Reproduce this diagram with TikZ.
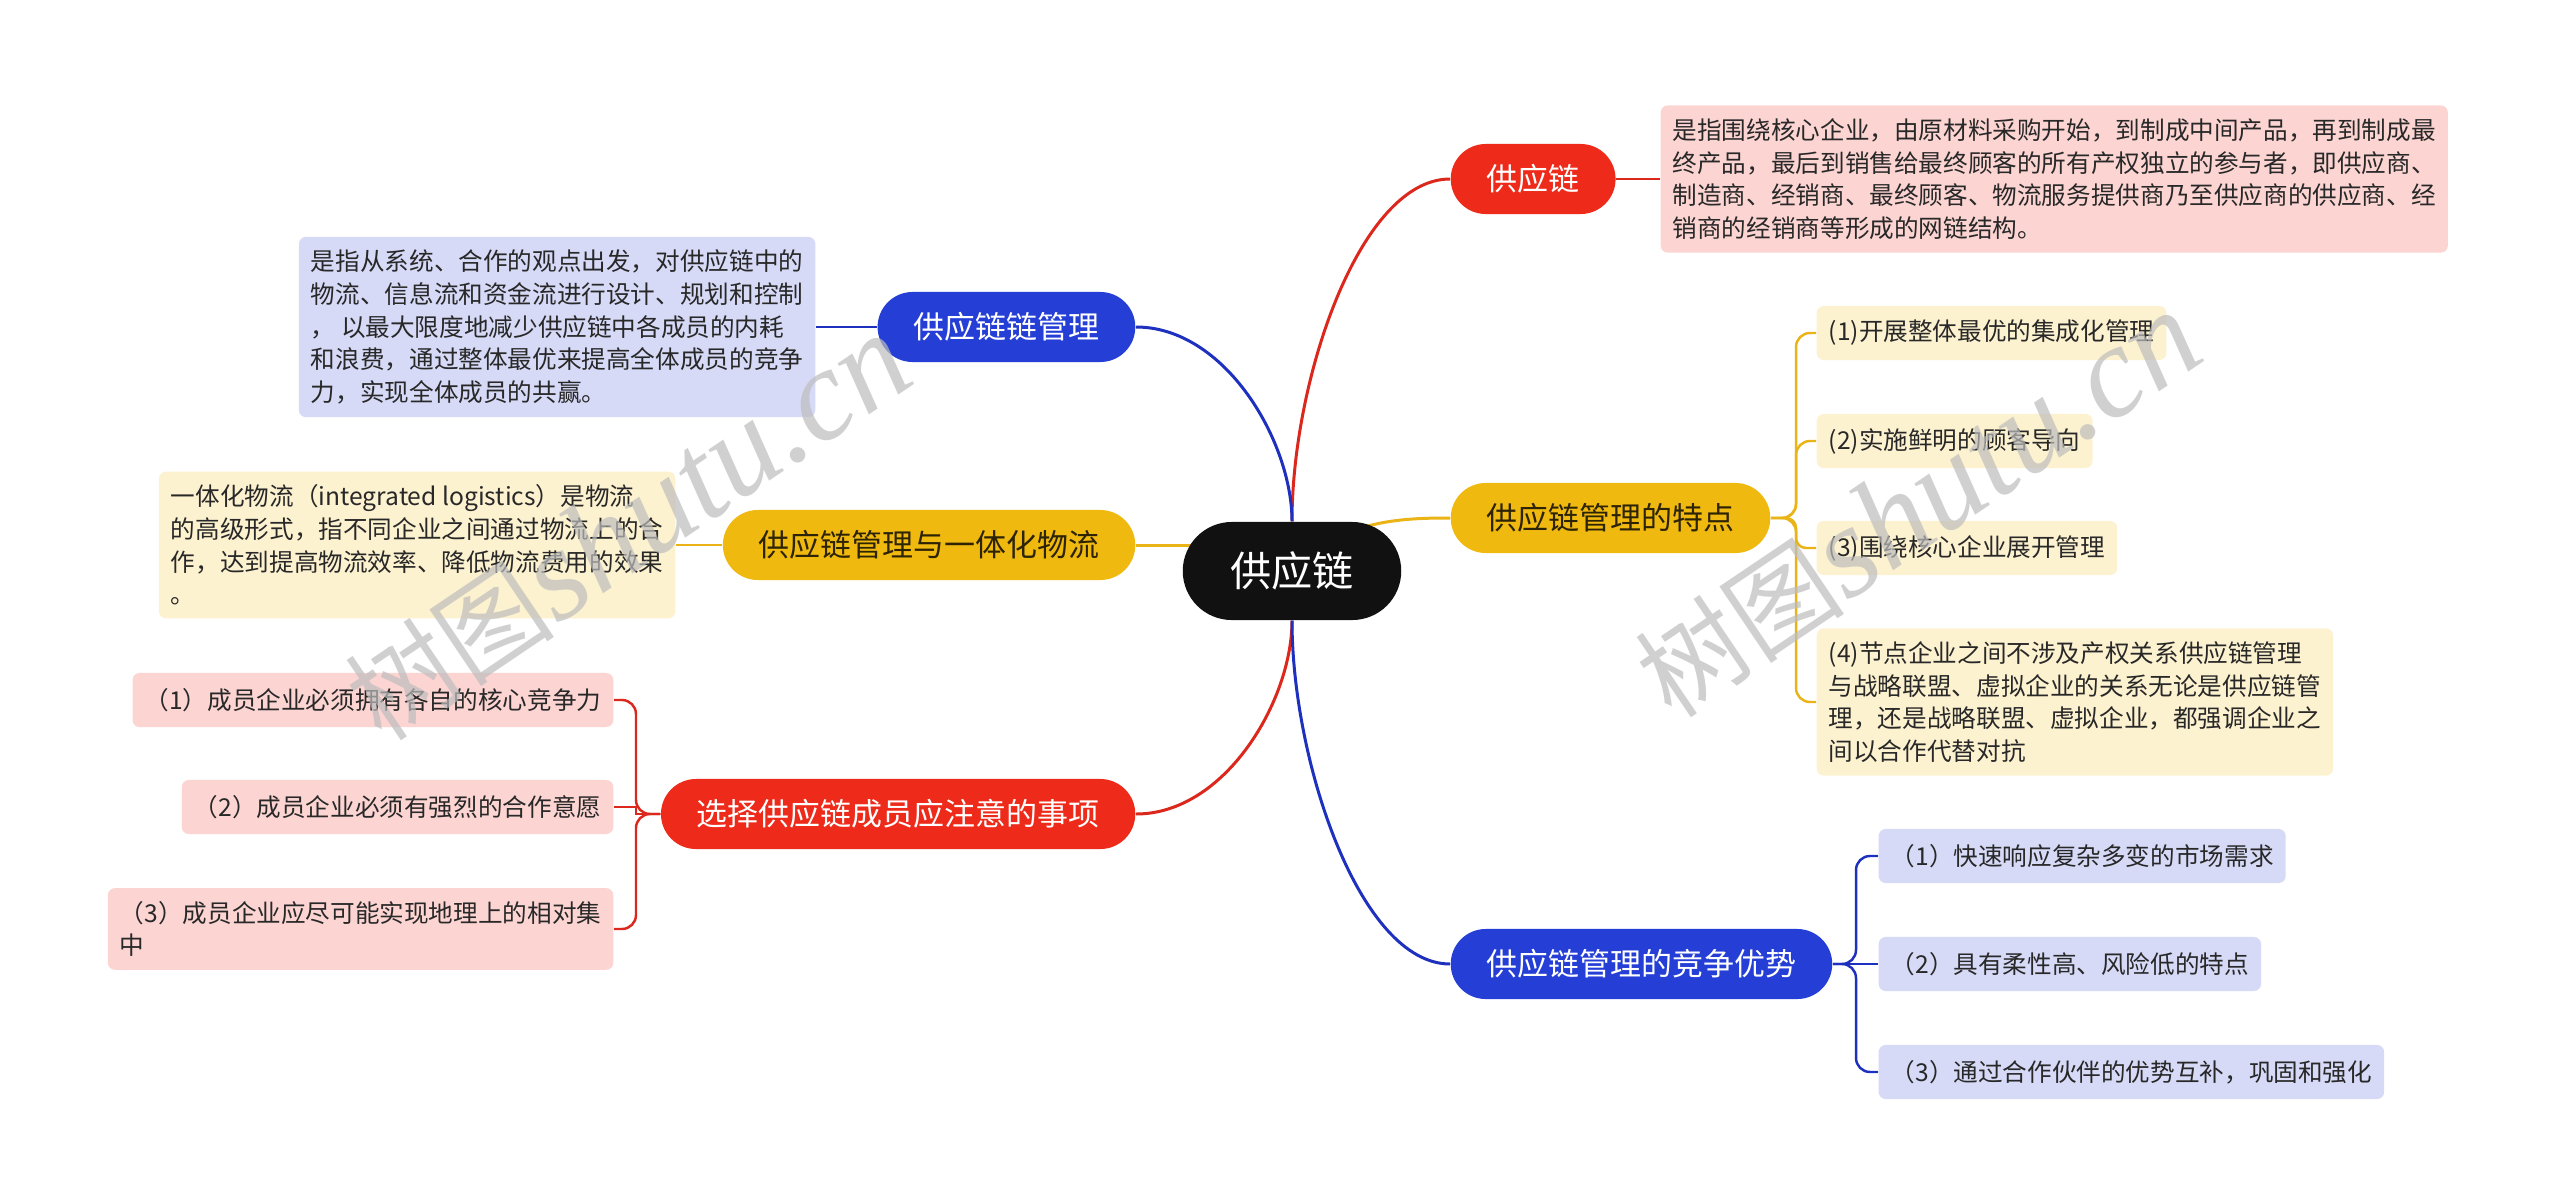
\documentclass[tikz,border=0pt]{standalone}
\usepackage{fontspec}
\setmainfont{Noto Sans CJK SC}
\newfontfamily\wmserif{Liberation Serif}
\usetikzlibrary{calc}
\pgfdeclarelayer{bg}
\pgfsetlayers{bg,main}
\definecolor{rootc}{RGB}{17,17,17}
\definecolor{redc}{RGB}{238,43,26}
\definecolor{rede}{RGB}{220,40,28}
\definecolor{redl}{RGB}{252,213,211}
\definecolor{yelc}{RGB}{240,185,15}
\definecolor{yele}{RGB}{234,180,22}
\definecolor{yell}{RGB}{253,242,208}
\definecolor{bluc}{RGB}{36,62,214}
\definecolor{blue2}{RGB}{30,48,190}
\definecolor{blul}{RGB}{214,218,247}
\definecolor{txt}{RGB}{40,40,40}
\definecolor{ytxt}{RGB}{45,35,5}
\begin{document}
\begin{tikzpicture}[x=0.01cm,y=-0.01cm,
  rootnode/.style={fill=rootc,text=white,rounded corners=0.49cm,minimum height=0.98cm,inner xsep=0.475cm,inner ysep=0pt,font=\fontsize{11.7}{14}\selectfont},
  topic/.style={rounded corners=0.35cm,minimum height=0.70cm,inner xsep=0.36cm,inner ysep=0pt,font=\fontsize{8.8}{10.5}\selectfont},
  redtopic/.style={topic,fill=redc,text=white},
  yeltopic/.style={topic,fill=yelc,text=ytxt},
  blutopic/.style={topic,fill=bluc,text=white},
  leaf/.style={rounded corners=0.07cm,minimum height=0.54cm,inner xsep=0.12cm,inner ysep=0.13cm,align=left,text=txt,font=\fontsize{7}{9.3}\selectfont},
  redleaf/.style={leaf,fill=redl},
  yelleaf/.style={leaf,fill=yell},
  bluleaf/.style={leaf,fill=blul},
  mainedge/.style={line width=0.85pt},
  subedge/.style={line width=0.7pt,rounded corners=0.14cm},
  wmark/.style={text=black!26,opacity=0.7,rotate=34}
]
\useasboundingbox (0,0) rectangle (2560,1203);
\begin{pgfonlayer}{bg}
\fill[white] (0,0) rectangle (2560,1203);
\end{pgfonlayer}

% root
\node[rootnode] (c) at (1292,571) {供应链};

% level 1
\node[redtopic,anchor=west] (r1) at (1450,179) {供应链};
\node[yeltopic,anchor=west] (yr) at (1450,518) {供应链管理的特点};
\node[blutopic,anchor=west] (br) at (1450,964) {供应链管理的竞争优势};
\node[blutopic,anchor=east] (bl) at (1136,327) {供应链链管理};
\node[yeltopic,anchor=east] (yl) at (1136,545) {供应链管理与一体化物流};
\node[redtopic,anchor=east] (rl) at (1136,814) {选择供应链成员应注意的事项};

% level 2
\node[redleaf,anchor=west] (rd) at (1660,179) {是指围绕核心企业，由原材料采购开始，到制成中间产品，再到制成最\\终产品，最后到销售给最终顾客的所有产权独立的参与者，即供应商、\\制造商、经销商、最终顾客、物流服务提供商乃至供应商的供应商、经\\销商的经销商等形成的网链结构。};

\node[yelleaf,anchor=west] (y1) at (1816,333) {(1)开展整体最优的集成化管理};
\node[yelleaf,anchor=west] (y2) at (1816,441) {(2)实施鲜明的顾客导向};
\node[yelleaf,anchor=west] (y3) at (1816,548) {(3)围绕核心企业展开管理};
\node[yelleaf,anchor=west] (y4) at (1816,702) {(4)节点企业之间不涉及产权关系供应链管理\\与战略联盟、虚拟企业的关系无论是供应链管\\理，还是战略联盟、虚拟企业，都强调企业之\\间以合作代替对抗};

\node[bluleaf,anchor=west] (b1) at (1878,856) {（1）快速响应复杂多变的市场需求};
\node[bluleaf,anchor=west] (b2) at (1878,964) {（2）具有柔性高、风险低的特点};
\node[bluleaf,anchor=west] (b3) at (1878,1072) {（3）通过合作伙伴的优势互补，巩固和强化};

\node[bluleaf,anchor=east] (bd) at (816,327) {是指从系统、合作的观点出发，对供应链中的\\物流、信息流和资金流进行设计、规划和控制\\， 以最大限度地减少供应链中各成员的内耗\\和浪费，通过整体最优来提高全体成员的竞争\\力，实现全体成员的共赢。};

\node[yelleaf,anchor=east] (yd) at (676,545) {一体化物流（integrated logistics）是物流\\的高级形式，指不同企业之间通过物流上的合\\作，达到提高物流效率、降低物流费用的效果\\。};

\node[redleaf,anchor=east] (l1) at (614,700) {（1）成员企业必须拥有各自的核心竞争力};
\node[redleaf,anchor=east] (l2) at (614,807) {（2）成员企业必须有强烈的合作意愿};
\node[redleaf,anchor=east] (l3) at (614,929) {（3）成员企业应尽可能实现地理上的相对集\\中};

% bracket points
\coordinate (ybx) at (1796,518);
\coordinate (bbx) at (1856,964);
\coordinate (rbx) at (636,814);

\begin{pgfonlayer}{bg}
% main connectors
\draw[mainedge,rede] (c.north) .. controls ($(c.north)+(0,-142)$) and ($(r1.west)+(-90,0)$) .. (r1.west);
\draw[mainedge,blue2] (c.north) .. controls ($(c.north)+(0,-80)$) and ($(bl.east)+(89,0)$) .. (bl.east);
\draw[mainedge,rede] (c.south) .. controls ($(c.south)+(0,80)$) and ($(rl.east)+(89,0)$) .. (rl.east);
\draw[mainedge,blue2] (c.south) .. controls ($(c.south)+(0,141)$) and ($(br.west)+(-90,0)$) .. (br.west);
\draw[mainedge,yele] (c.center) .. controls ($(c.center)+(48,-51)$) and ($(yr.west)+(-50,0)$) .. (yr.west);
\draw[mainedge,yele] (yl.east) -- (c.center |- yl.east);

% descriptions
\draw[subedge,rede] (r1.east) -- (rd.west);
\draw[subedge,blue2] (bl.west) -- (bd.east);
\draw[subedge,yele] (yl.west) -- (yd.east);

% yellow right bracket
\draw[subedge,yele] (yr.east) -- (ybx) -- (ybx |- y1.west) -- (y1.west);
\draw[subedge,yele] (yr.east) -- (ybx) -- (ybx |- y2.west) -- (y2.west);
\draw[subedge,yele,rounded corners=0.1cm] (yr.east) -- (ybx) -- (ybx |- y3.west) -- (y3.west);
\draw[subedge,yele] (yr.east) -- (ybx) -- (ybx |- y4.west) -- (y4.west);

% blue right bracket
\draw[subedge,blue2] (br.east) -- (bbx) -- (bbx |- b1.west) -- (b1.west);
\draw[subedge,blue2] (br.east) -- (b2.west);
\draw[subedge,blue2] (br.east) -- (bbx) -- (bbx |- b3.west) -- (b3.west);

% red left bracket
\draw[subedge,rede] (rl.west) -- (rbx) -- (rbx |- l1.east) -- (l1.east);
\draw[line width=0.7pt,rede] (rl.west) -- (rbx) -- (rbx |- l2.east) -- (l2.east);
\draw[subedge,rede] (rl.west) -- (rbx) -- (rbx |- l3.east) -- (l3.east);
\end{pgfonlayer}

% watermarks
\node[wmark] (w1) at (628,528) {{\fontsize{30}{32}\selectfont 树图}{\wmserif\itshape\fontsize{37}{39}\selectfont shutu.cn}};
\node[wmark] (w2) at (1918,505) {{\fontsize{30}{32}\selectfont 树图}{\wmserif\itshape\fontsize{37}{39}\selectfont shutu.cn}};
\end{tikzpicture}
\end{document}
